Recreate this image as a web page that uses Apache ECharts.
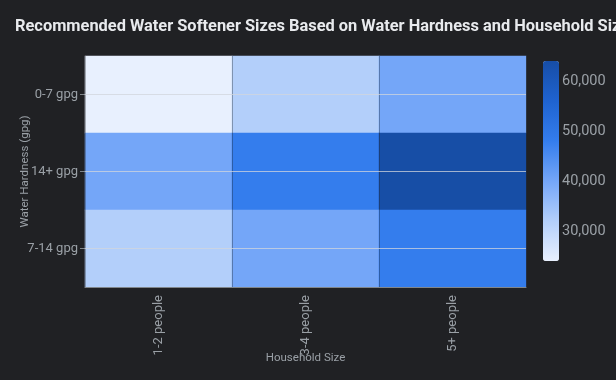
<!DOCTYPE html>
<html><head><meta charset="utf-8">
<script src="https://cdn.jsdelivr.net/npm/echarts@6/dist/echarts.min.js"></script>
<style>html,body{margin:0;padding:0;background:#202124;}#c{width:616px;height:380px;}</style>
</head><body><div id="c"></div>
<script>
const householdSizes = ['1-2 people', '3-4 people', '5+ people'];
const hardnessLevels = ['0-7 gpg', '14+ gpg', '7-14 gpg'];
const grains_0_7 = [24000, 32000, 40000];
const grains_14plus = [40000, 48000, 64000];
const grains_7_14 = [32000, 40000, 48000];
const colorbarTicks = [30000, 40000, 50000, 60000];
const scaleMin = 24000, scaleMax = 64000;

const rows = [grains_0_7, grains_14plus, grains_7_14];
const data = [];
rows.forEach((r, yi) => r.forEach((v, xi) => data.push([xi, yi, v])));

const txt = '#9aa0a6';
const font = 'Roboto, "Noto Sans", sans-serif';
const chart = echarts.init(document.getElementById('c'));
chart.setOption({
  backgroundColor: '#202124',
  textStyle: {fontFamily: font},
  title: {text: 'Recommended Water Softener Sizes Based on Water Hardness and Household Size',
    left: 10, top: 14, textStyle: {color: '#e8eaed', fontSize: 16.4, fontWeight: 'bold', fontFamily: font}},
  grid: [
    {left: 85, top: 56, width: 441, height: 231, outerBoundsMode: 'none', containLabel: false},
    {left: 543, top: 61, width: 16, height: 200, outerBoundsMode: 'none', containLabel: false}
  ],
  xAxis: [
    {type: 'category', data: householdSizes, gridIndex: 0, z: 3,
     axisLine: {show: true, lineStyle: {color: '#80868b'}},
     axisTick: {show: false},
     splitLine: {show: true, lineStyle: {color: 'rgba(32,33,36,0.35)', width: 1}},
     axisLabel: {rotate: 90, color: txt, fontSize: 13, margin: 8},
     name: 'Household Size', nameLocation: 'middle', nameGap: 65, nameMoveOverlap: false,
     nameTextStyle: {color: txt, fontSize: 11.5}},
    {type: 'value', gridIndex: 1, show: false, min: 0, max: 1}
  ],
  yAxis: [
    {type: 'category', data: hardnessLevels, inverse: true, gridIndex: 0,
     axisLine: {show: false},
     axisTick: {show: true, alignWithLabel: true, length: 5, lineStyle: {color: '#80868b'}},
     splitLine: {show: false},
     axisLabel: {color: txt, fontSize: 13, margin: 7},
     name: 'Water Hardness (gpg)', nameLocation: 'middle', nameGap: 54, nameMoveOverlap: false,
     nameTextStyle: {color: txt, fontSize: 11.5}},
    {type: 'value', gridIndex: 1, min: scaleMin, max: scaleMax, position: 'right',
     axisLine: {show: false}, axisTick: {show: false}, splitLine: {show: false},
     axisLabel: {color: txt, fontSize: 14.5, margin: 3, customValues: colorbarTicks,
       formatter: v => v.toLocaleString('en-US')}}
  ],
  visualMap: {
    type: 'continuous', min: scaleMin, max: scaleMax, seriesIndex: 0,
    calculable: false, orient: 'vertical', left: 543, top: 61, padding: 0,
    itemWidth: 16, itemHeight: 200, text: ['', ''], showLabel: false,
    inRange: {color: ['#e8f0fe', '#b3cffa', '#74a6f8', '#347ded', '#1f63d0', '#174ea6']}
  },
  series: [
    {type: 'heatmap', xAxisIndex: 0, yAxisIndex: 0, data: data,
     itemStyle: {borderWidth: 0},
     emphasis: {disabled: true},
     markLine: {silent: true, symbol: 'none', label: {show: false},
       lineStyle: {color: 'rgba(210,214,220,0.75)', type: 'solid', width: 1},
       data: hardnessLevels.map(h => ({yAxis: h}))}},
    {type: 'line', xAxisIndex: 1, yAxisIndex: 1, data: []}
  ]
});
</script></body></html>
